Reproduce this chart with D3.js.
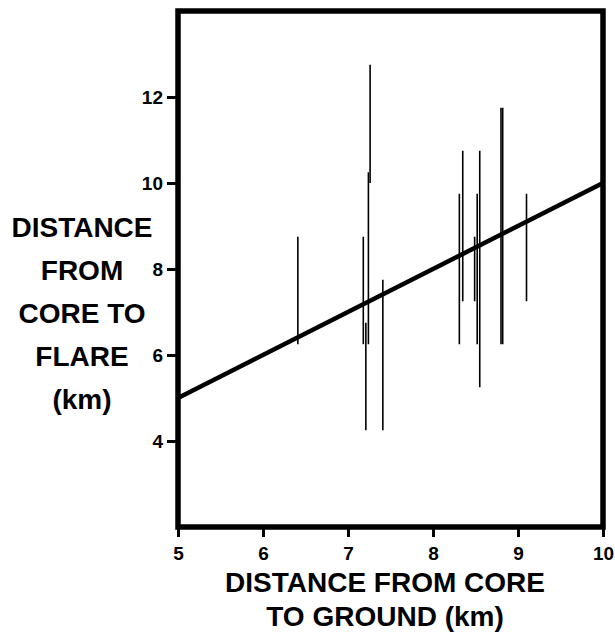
<!DOCTYPE html>
<html>
<head>
<meta charset="utf-8">
<script src="https://cdn.jsdelivr.net/npm/d3@7"></script>
<style>
  html, body { margin: 0; padding: 0; background: #fff; }
  svg { display: block; }
</style>
</head>
<body>
<script>
// ---- data ----
const barX  = [6.41, 7.18, 7.21, 7.24, 7.26, 7.41, 8.31, 8.35, 8.49, 8.52, 8.55, 8.80, 8.82, 9.10];
const barLo = [6.25, 6.25, 4.25, 6.25, 10.0, 4.25, 6.25, 7.25, 7.25, 6.25, 5.25, 6.25, 6.25, 7.25];
const barHi = [8.75, 8.75, 6.75, 10.25, 12.75, 7.75, 9.75, 10.75, 8.75, 9.75, 10.75, 11.75, 11.75, 9.75];
const fitX = [5, 10];
const fitY = [5, 10];
const xTicks = [5, 6, 7, 8, 9, 10];
const yTicks = [4, 6, 8, 10, 12];
const yTitle = ["DISTANCE", "FROM", "CORE TO", "FLARE", "(km)"];
const xTitle = ["DISTANCE FROM CORE", "TO GROUND (km)"];

const FONT = '"Liberation Sans", Arial, Helvetica, sans-serif';
const W = 615, H = 638;
const svg = d3.select("body").append("svg").attr("width", W).attr("height", H);

const x = d3.scaleLinear().domain([5, 10]).range([178, 603]);
const y = d3.scaleLinear().domain([2, 14]).range([527, 11]);

// error bars
svg.append("g").selectAll("line").data(barX).join("line")
  .attr("x1", d => x(d)).attr("x2", d => x(d))
  .attr("y1", (d, i) => y(barLo[i])).attr("y2", (d, i) => y(barHi[i]))
  .attr("stroke", "#000").attr("stroke-width", 1.6);

// fit line
svg.append("path")
  .attr("d", d3.line().x(d => x(d[0])).y(d => y(d[1]))(fitX.map((v, i) => [v, fitY[i]])))
  .attr("stroke", "#000").attr("stroke-width", 4.5).attr("fill", "none");

// axes
const xAxis = svg.append("g").attr("transform", `translate(0,${y(2)})`)
  .call(d3.axisBottom(x).tickValues(xTicks).tickFormat(d3.format("d")).tickSize(10).tickPadding(10));
const yAxis = svg.append("g").attr("transform", `translate(${x(5)},0)`)
  .call(d3.axisLeft(y).tickValues(yTicks).tickFormat(d3.format("d")).tickSize(11).tickPadding(4));
[xAxis, yAxis].forEach(g => {
  g.attr("font-size", 19).attr("font-family", FONT).attr("font-weight", "bold");
  g.select(".domain").remove();
  g.selectAll(".tick line").attr("stroke", "#000").attr("stroke-width", 3);
  g.selectAll(".tick text").attr("fill", "#000")
    .style("font-size", "19px").style("font-family", FONT).style("font-weight", "bold");
});

// frame
svg.append("rect")
  .attr("x", x(5)).attr("y", y(14))
  .attr("width", x(10) - x(5)).attr("height", y(2) - y(14))
  .attr("fill", "none").attr("stroke", "#000").attr("stroke-width", 5.5);

// y title
svg.append("g").selectAll("text").data(yTitle).join("text")
  .attr("x", 82).attr("y", (d, i) => 237 + i * 43)
  .attr("text-anchor", "middle")
  .attr("font-family", FONT).attr("font-weight", "bold").attr("font-size", 28)
  .text(d => d);

// x title
svg.append("g").selectAll("text").data(xTitle).join("text")
  .attr("x", 385).attr("y", (d, i) => 592 + i * 34)
  .attr("text-anchor", "middle")
  .attr("font-family", FONT).attr("font-weight", "bold").attr("font-size", 28)
  .text(d => d);
</script>
</body>
</html>
